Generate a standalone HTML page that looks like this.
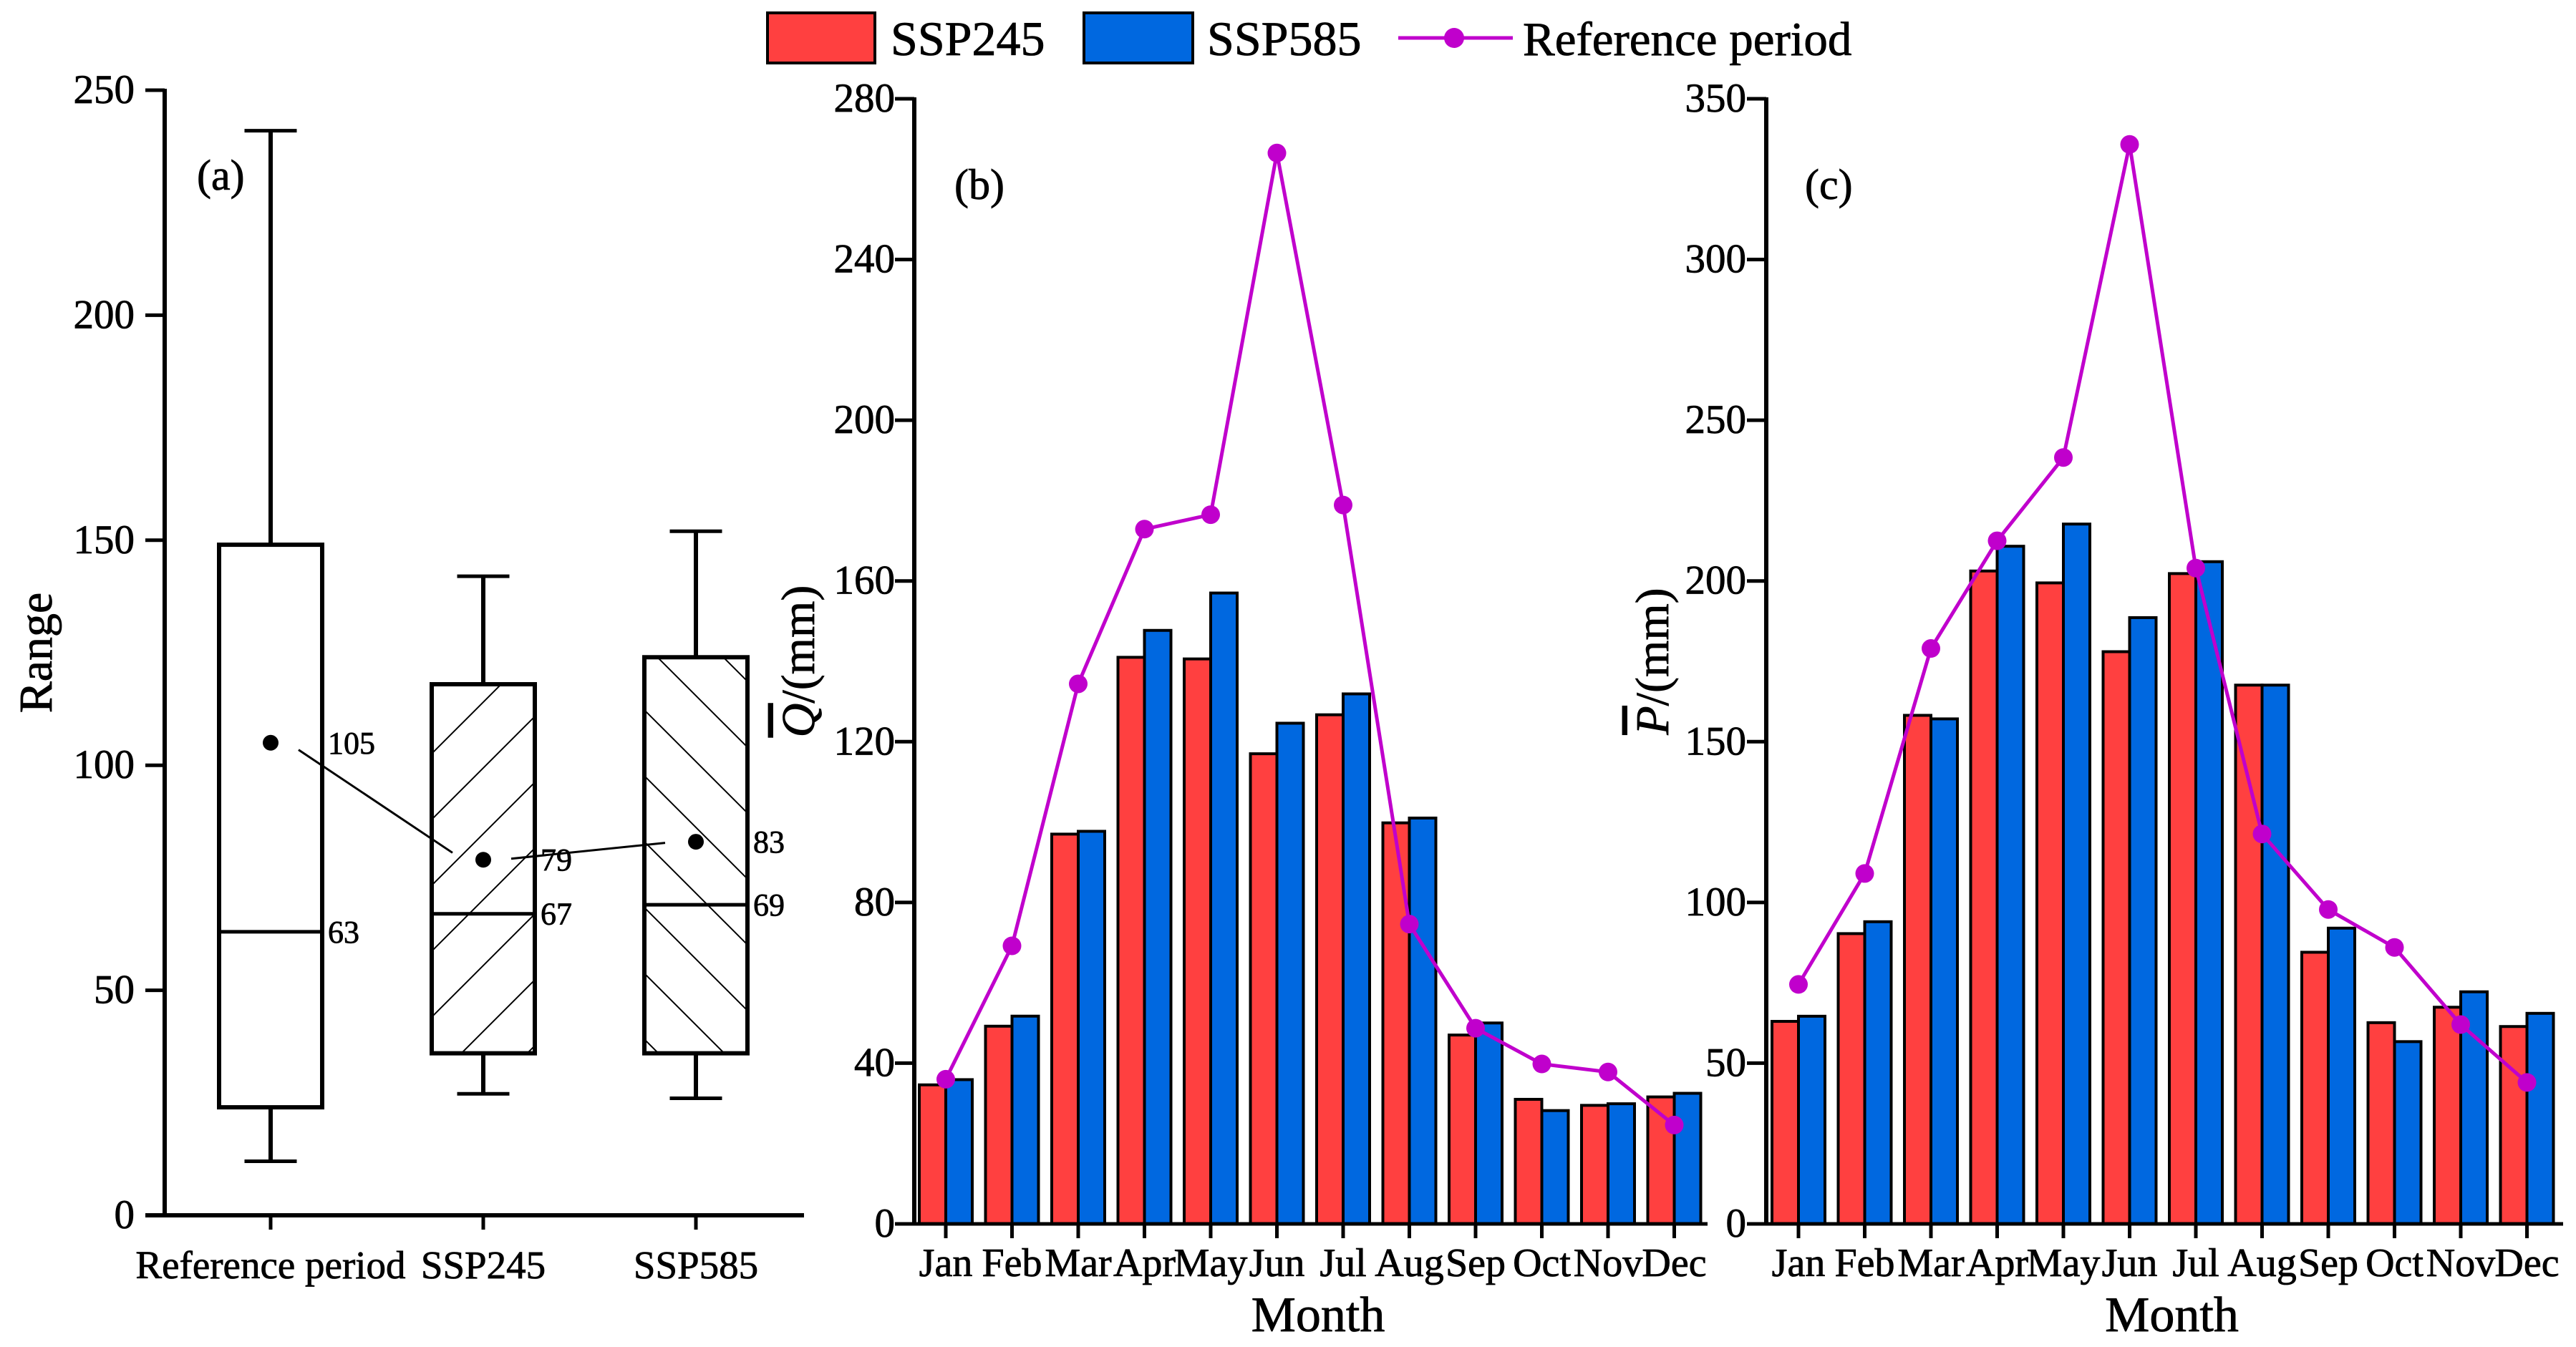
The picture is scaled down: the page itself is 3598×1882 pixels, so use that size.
<!DOCTYPE html>
<html><head><meta charset="utf-8"><style>
html,body{margin:0;padding:0;background:#fff;}
svg{display:block;font-family:"Liberation Serif",serif;}
svg text{stroke:#000;stroke-width:0.8px;}
</style></head><body>
<svg id="chart" width="3598" height="1882" viewBox="0 0 3598 1882" xmlns="http://www.w3.org/2000/svg">
<defs>
<pattern id="hatchF" patternUnits="userSpaceOnUse" width="92" height="92">
<path d="M-23,23 L23,-23 M0,92 L92,0 M69,115 L115,69" stroke="#000" stroke-width="2"/>
</pattern>
<pattern id="hatchB" patternUnits="userSpaceOnUse" width="92" height="92">
<path d="M-23,69 L23,115 M0,0 L92,92 M69,-23 L115,23" stroke="#000" stroke-width="2"/>
</pattern>
</defs>
<g id="legend">
<rect x="1072" y="18" width="150" height="70" fill="#FF4040" stroke="#000" stroke-width="4"/>
<text x="1244" y="77" font-size="68">SSP245</text>
<rect x="1514" y="18" width="152" height="70" fill="#0068E0" stroke="#000" stroke-width="4"/>
<text x="1686" y="77" font-size="68">SSP585</text>
<line x1="1953" y1="53" x2="2113" y2="53" stroke="#C000CC" stroke-width="5"/>
<circle cx="2031" cy="53" r="14" fill="#C000CC"/>
<text x="2127" y="77" font-size="67">Reference period</text>
</g>
<g id="pa"></g>
<g id="pb"></g>
<g id="pc"></g>
</svg>
<script>
// Panel (a) box plot data
const boxCategories = ["Reference period", "SSP245", "SSP585"];
const boxMin = [12, 27, 26];
const boxQ1 = [24, 36, 36];
const boxMedian = [63, 67, 69];
const boxQ3 = [149, 118, 124];
const boxMax = [241, 142, 152];
const boxMean = [105, 79, 83];
const boxTicks = [0, 50, 100, 150, 200, 250];

// Panel (b) runoff
const months = ["Jan","Feb","Mar","Apr","May","Jun","Jul","Aug","Sep","Oct","Nov","Dec"];
const qSSP245 = [34.6, 49.2, 97, 141, 140.6, 117, 126.7, 99.8, 47, 31, 29.5, 31.6];
const qSSP585 = [35.9, 51.7, 97.7, 147.7, 157, 124.6, 131.9, 101, 50, 28.2, 29.9, 32.5];
const qRef = [36, 69.2, 134.4, 172.9, 176.5, 266.5, 178.9, 74.6, 48.7, 39.8, 37.8, 24.6];
const qTicks = [0, 40, 80, 120, 160, 200, 240, 280];

// Panel (c) precipitation
const pSSP245 = [63, 90.3, 158.2, 203.1, 199.4, 178, 202.3, 167.6, 84.5, 62.6, 67.4, 61.4];
const pSSP585 = [64.6, 94, 157.1, 210.8, 217.7, 188.6, 206, 167.6, 92, 56.7, 72.2, 65.5];
const pRef = [74.5, 109, 179, 212.5, 238.4, 335.8, 204, 121.3, 97.8, 86, 62, 44];
const pTicks = [0, 50, 100, 150, 200, 250, 300, 350];

const NS = "http://www.w3.org/2000/svg";
function mk(parent, tag, attrs, text) {
  const e = document.createElementNS(NS, tag);
  for (const k in attrs) e.setAttribute(k, attrs[k]);
  if (text !== undefined) e.textContent = text;
  parent.appendChild(e);
  return e;
}

// ---------- Panel A ----------
(function(){
  const g = document.getElementById('pa');
  const x0 = 230, yBase = 1698, yTop = 126, xEnd = 1123;
  const y = v => yBase - (v / 250) * (yBase - yTop);
  const xc = i => 378 + i * 297;
  const boxW = 144, capW = 73;
  boxTicks.forEach(t => {
    const tk = mk(g, 'line', {x1: x0-27, y1: y(t), x2: x0, y2: y(t), stroke:'#000','stroke-width':5});
    
    
    const lb = mk(g, 'text', {x: 188, y: y(t)+18, 'font-size':57, 'text-anchor':'end'}, String(t));
    
    
  });
  boxCategories.forEach((c, i) => {
    const cx = xc(i);
    const bg = mk(g, 'g', {});
    
    
    mk(bg, 'line', {x1:cx, y1:y(boxMax[i]), x2:cx, y2:y(boxQ3[i]), stroke:'#000','stroke-width':6});
    mk(bg, 'line', {x1:cx, y1:y(boxMin[i]), x2:cx, y2:y(boxQ1[i]), stroke:'#000','stroke-width':6});
    mk(bg, 'line', {x1:cx-capW/2, y1:y(boxMax[i]), x2:cx+capW/2, y2:y(boxMax[i]), stroke:'#000','stroke-width':5});
    mk(bg, 'line', {x1:cx-capW/2, y1:y(boxMin[i]), x2:cx+capW/2, y2:y(boxMin[i]), stroke:'#000','stroke-width':5});
    const fill = i === 1 ? 'url(#hatchF)' : (i === 2 ? 'url(#hatchB)' : '#fff');
    mk(bg, 'rect', {x: cx-boxW/2, y: y(boxQ3[i]), width: boxW, height: y(boxQ1[i]) - y(boxQ3[i]), fill: fill, stroke:'#000','stroke-width':6});
    mk(bg, 'line', {x1:cx-boxW/2, y1:y(boxMedian[i]), x2:cx+boxW/2, y2:y(boxMedian[i]), stroke:'#000','stroke-width':5});
    const m = mk(bg, 'circle', {cx: cx, cy: y(boxMean[i]), r: 11, fill:'#000'});
    
    
    const ml = mk(g, 'text', {x: cx+boxW/2+8, y: y(boxMean[i])+15, 'font-size':44}, String(boxMean[i]));
    
    
    const dl = mk(g, 'text', {x: cx+boxW/2+8, y: y(boxMedian[i])+15, 'font-size':44}, String(boxMedian[i]));
    
    
    const tk = mk(g, 'line', {x1:cx, y1:yBase, x2:cx, y2:yBase+20, stroke:'#000','stroke-width':5});
    
    
    const xl = mk(g, 'text', {x: cx, y: 1786, 'font-size':55, 'text-anchor':'middle'}, c);
    
    
  });
  for (let i = 0; i < 2; i++) {
    const xa = xc(i) + 39, xb = xc(i+1) - 43;
    const ya = y(boxMean[i]), yb = y(boxMean[i+1]);
    const l = mk(g, 'line', {x1: xa, y1: ya + (yb-ya)*0.06, x2: xb, y2: yb - (yb-ya)*0.06, stroke:'#000','stroke-width':3});
    
    
  }
  mk(g, 'line', {x1:x0, y1:yTop-2, x2:x0, y2:yBase, stroke:'#000','stroke-width':6});
  mk(g, 'line', {x1:x0-27, y1:yBase, x2:xEnd, y2:yBase, stroke:'#000','stroke-width':6});
  const yt = mk(g, 'text', {x: 0, y: 0, 'font-size':66, 'text-anchor':'middle', transform:'translate(72,912) rotate(-90)'}, 'Range');
  
  
  const pl = mk(g, 'text', {x: 275, y: 265, 'font-size':60}, '(a)');
  
  
})();

// ---------- Bar panels ----------
function barPanel(gid, tag, x0, xJan, xEnd, vmax, ticks, s1, s2, ref, ytitle, plabel, tickLabelX) {
  const g = document.getElementById(gid);
  const yBase = 1710, yTop = 138, step = 92.5, bw = 37;
  const y = v => yBase - (v / vmax) * (yBase - yTop);
  const xc = i => xJan + i * step;
  ticks.forEach(t => {
    const tk = mk(g, 'line', {x1: x0-27, y1: y(t), x2: x0, y2: y(t), stroke:'#000','stroke-width':5});
    
    
    const lb = mk(g, 'text', {x: tickLabelX, y: y(t)+18, 'font-size':57, 'text-anchor':'end'}, String(t));
    
    
  });
  months.forEach((m, i) => {
    const cx = xc(i);
    const r = mk(g, 'rect', {x: cx-bw, y: y(s1[i]), width: bw, height: yBase - y(s1[i]), fill:'#FF4040', stroke:'#000', 'stroke-width':4});
    
    
    const b = mk(g, 'rect', {x: cx, y: y(s2[i]), width: bw, height: yBase - y(s2[i]), fill:'#0068E0', stroke:'#000', 'stroke-width':4});
    
    
    const tk = mk(g, 'line', {x1:cx, y1:yBase, x2:cx, y2:yBase+20, stroke:'#000','stroke-width':5});
    
    
    const xl = mk(g, 'text', {x: cx, y: 1783, 'font-size':56, 'text-anchor':'middle'}, m);
    
    
  });
  const pts = ref.map((v, i) => xc(i) + ',' + y(v)).join(' ');
  const pl = mk(g, 'polyline', {points: pts, fill:'none', stroke:'#C000CC', 'stroke-width':5});
  
  
  ref.forEach((v, i) => {
    const c = mk(g, 'circle', {cx: xc(i), cy: y(v), r: 13, fill:'#C000CC'});
    
    
  });
  mk(g, 'line', {x1:x0, y1:yTop-2, x2:x0, y2:yBase, stroke:'#000','stroke-width':6});
  mk(g, 'line', {x1:x0-27, y1:yBase, x2:xEnd, y2:yBase, stroke:'#000','stroke-width':5});
  const xt = mk(g, 'text', {x: (x0+xEnd)/2 + 10, y: 1860, 'font-size':70, 'text-anchor':'middle'}, 'Month');
  
  
  const yt = mk(g, 'text', {x: 0, y: 0, 'font-size':66, 'text-anchor':'middle', transform:'translate(' + ytitle.x + ',924) rotate(-90)'});
  
  
  mk(yt, 'tspan', {'font-style':'italic', 'text-decoration':'overline'}, ytitle.sym);
  mk(yt, 'tspan', {}, '/(mm)');
  const lab = mk(g, 'text', {x: plabel, y: 278, 'font-size':60}, '(' + tag + ')');
  
  
}
barPanel('pb', 'b', 1277, 1321, 2385, 280, qTicks, qSSP245, qSSP585, qRef, {x: 1137, sym: 'Q'}, 1333, 1250);
barPanel('pc', 'c', 2467, 2512, 3580, 350, pTicks, pSSP245, pSSP585, pRef, {x: 2330, sym: 'P'}, 2521, 2439);
</script>
</body></html>
